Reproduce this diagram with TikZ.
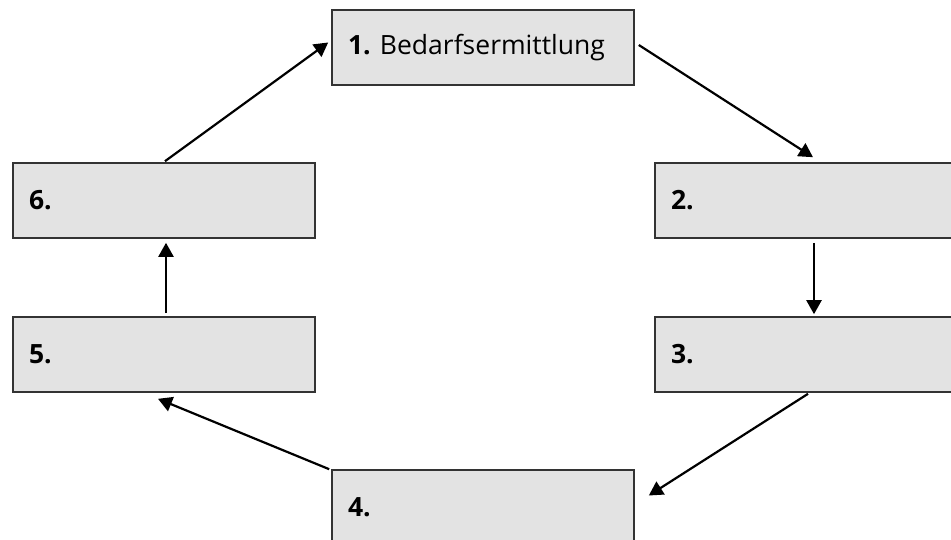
\documentclass[tikz,border=0pt]{standalone}
\usepackage{fontspec}
\setmainfont{Open Sans}
\usetikzlibrary{arrows.meta,calc}
\definecolor{boxfill}{HTML}{E3E3E3}
\definecolor{boxline}{HTML}{333333}
\tikzset{
  stepbox/.style={draw=boxline, line width=1.6pt, fill=boxfill,
    minimum width=302pt, minimum height=75pt, inner xsep=16pt,
    text width=270pt, align=left, font=\fontsize{26.5}{30}\selectfont},
  flow/.style={line width=2.2pt, -{Triangle[length=14pt,width=15pt]}}
}
\begin{document}
\begin{tikzpicture}[x=1pt,y=-1pt]
  \useasboundingbox (0,0) rectangle (951,539);
  \clip (0,0) rectangle (951,539);
  % the six stages of the cycle
  \node[stepbox] (b1) at (483,47.5)  {\textbf{1.}\hspace{-4pt} Bedarfsermittlung};
  \node[stepbox] (b2) at (806,200.5) {\textbf{2.}};
  \node[stepbox] (b3) at (806,354.5) {\textbf{3.}};
  \node[stepbox] (b4) at (483,507.5) {\textbf{4.}};
  \node[stepbox] (b5) at (164,354.5) {\textbf{5.}};
  \node[stepbox] (b6) at (164,200.5) {\textbf{6.}};
  % connectors, clockwise
  \draw[flow] ($(b1.east)+(4,-2.5)$) -- ($(b2.north)+(7,-5)$);
  \draw[flow] ($(b2.south)+(8,4)$)   -- ($(b3.north)+(8,-2)$);
  \draw[flow] ($(b3.south)+(2,1)$)   -- ($(b4.east)+(14,-12)$);
  \draw[flow] ($(b4.north west)+(-2,0)$) -- ($(b5.south)+(-6,6)$);
  \draw[flow] ($(b5.north)+(2,-3)$)  -- ($(b6.south)+(2,4)$);
  \draw[flow] ($(b6.north)+(1,-1)$)  -- ($(b1.west)+(-3,-5)$);
\end{tikzpicture}
\end{document}
